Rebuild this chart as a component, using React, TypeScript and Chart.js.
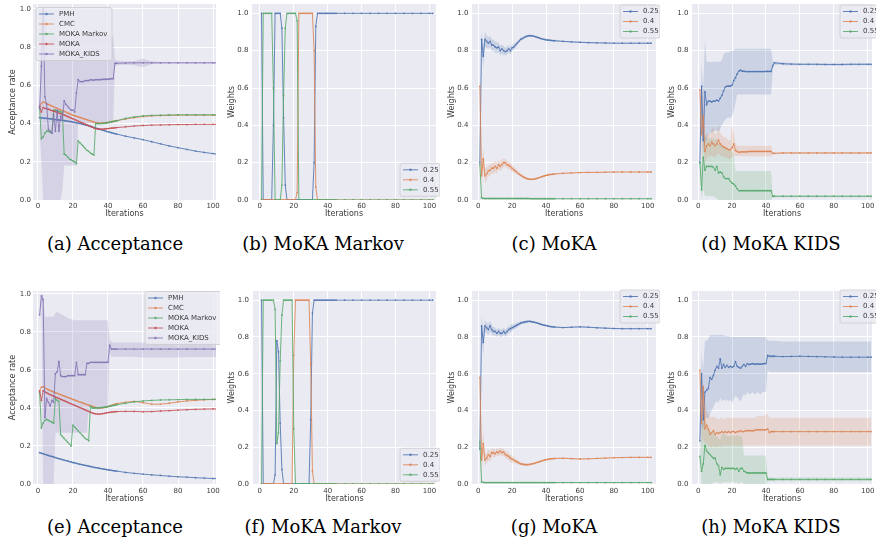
import React, { useEffect, useRef } from "react";
import { Chart, registerables } from "chart.js";

Chart.register(...registerables);

// ---------------- data ----------------
const ITER = [
  1, 2, 3, 4, 5, 6, 7, 8, 9, 10, 11, 12, 13, 14, 15, 16, 17, 18, 19, 20,
  21, 22, 23, 24, 25, 26, 27, 28, 29, 30, 31, 32, 33, 34, 35, 36, 37, 38, 39, 40,
  41, 42, 43, 44, 45, 50, 55, 60, 65, 70, 75, 80, 85, 90, 95, 100, 102,
];
const X_TICKS = [0, 20, 40, 60, 80, 100];
const Y_TICKS = [0, 0.2, 0.4, 0.6, 0.8, 1.0];
const ACC_LABELS = ["PMH", "CMC", "MOKA Markov", "MOKA", "MOKA_KIDS"];
const W_LABELS = ["0.25", "0.4", "0.55"];
const CAPTIONS = [
  "(a) Acceptance", "(b) MoKA Markov", "(c) MoKA", "(d) MoKA KIDS",
  "(e) Acceptance", "(f) MoKA Markov", "(g) MoKA", "(h) MoKA KIDS",
];

// (a)
const PMH_A = [
  .431,.430,.429,.428,.427,.426,.425,.424,.422,.421,
  .420,.419,.418,.417,.415,.414,.413,.411,.410,.408,
  .406,.404,.402,.400,.398,.396,.393,.391,.389,.386,
  .383,.380,.377,.374,.371,.368,.366,.363,.360,.357,
  .355,.352,.350,.347,.345,
  .334,.325,.316,.305,.294,.283,.274,.265,.256,.249,.243,.240];
const CMC_A = [
  .490,.505,.513,.510,.505,.500,.496,.492,.488,.484,
  .480,.476,.472,.468,.464,.460,.456,.452,.448,.444,
  .441,.438,.435,.432,.429,.426,.423,.420,.417,.414,
  .411,.408,.405,.403,.402,.402,.403,.404,.405,.406,
  .408,.410,.411,.413,.415,
  .424,.431,.437,.440,.442,.443,.444,.444,.444,.444,.444,.444];
const MARKOV_A = [
  .480,.320,.330,.350,.360,.360,.355,.350,.470,.470,
  .465,.465,.460,.460,.240,.235,.225,.215,.210,.205,
  .200,.190,.310,.300,.290,.280,.270,.260,.255,.245,
  .240,.235,.400,.400,.400,.400,.401,.402,.403,.405,
  .407,.409,.411,.413,.415,
  .427,.435,.440,.443,.444,.445,.446,.446,.446,.446,.446,.446];
const MOKA_A = [
  .490,.460,.485,.480,.478,.475,.472,.468,.465,.462,
  .458,.455,.452,.448,.445,.441,.437,.433,.429,.425,
  .421,.417,.413,.409,.405,.401,.397,.393,.389,.385,
  .381,.377,.374,.372,.371,.371,.371,.372,.373,.374,
  .375,.376,.377,.378,.379,
  .383,.387,.390,.392,.393,.394,.395,.395,.396,.396,.396,.396];
const KIDS_A = [
  .480,.700,1.00,.540,.500,.370,.360,.350,.450,.360,
  .470,.360,.440,.420,.520,.500,.490,.480,.470,.470,
  .460,.560,.630,.620,.620,.620,.625,.625,.625,.630,
  .628,.628,.630,.630,.630,.630,.632,.632,.632,.632,
  .633,.635,.635,.715,.716,
  .717,.718,.718,.718,.718,.718,.718,.718,.718,.718,.718,.718];
const KIDS_A_LO = [
  .350,.200,0,0,0,0,0,0,0,0,
  0,0,0,.050,.180,.180,.180,.180,.180,.180,
  .180,.180,.400,.400,.400,.400,.400,.400,.400,.400,
  .400,.400,.400,.400,.400,.400,.400,.400,.400,.400,
  .400,.400,.400,.700,.705,
  .708,.705,.695,.710,.714,.714,.715,.715,.715,.715,.715,.715];
const KIDS_A_HI = [
  .620,1.00,1.00,1.00,.860,.860,.860,.860,.860,.860,
  .860,.860,.860,.860,.860,.860,.860,.860,.860,.860,
  .860,.860,.860,.860,.860,.860,.860,.860,.860,.860,
  .860,.860,.860,.860,.860,.860,.860,.860,.860,.860,
  .860,.860,.860,.735,.730,
  .726,.728,.740,.726,.722,.721,.721,.721,.721,.721,.721,.721];

// (b)
const W25_B = [
  1,0,0,0,0,0,0,.40,1,1,
  1,1,.92,.44,.08,0,0,0,0,0,
  0,0,0,0,0,0,0,0,0,0,
  0,.20,.93,1,1,1,1,1,1,1,
  1,1,1,1,1,
  1,1,1,1,1,1,1,1,1,1,1,1];
const W40_B = [
  0,0,0,0,0,0,0,0,0,0,
  0,0,0,0,0,0,0,0,0,0,
  0,.04,1,1,1,1,1,1,1,1,
  1,.80,.07,0,0,0,0,0,0,0,
  0,0,0,0,0,
  0,0,0,0,0,0,0,0,0,0,0,0];
const W55_B = [
  0,1,1,1,1,1,1,.60,0,0,
  0,0,.08,.56,.92,1,1,1,1,1,
  1,.96,0,0,0,0,0,0,0,0,
  0,0,0,0,0,0,0,0,0,0,
  0,0,0,0,0,
  0,0,0,0,0,0,0,0,0,0,0,0];

// (c)
const W25_C = [
  .20,.86,.77,.86,.85,.84,.85,.83,.83,.82,
  .815,.82,.80,.81,.80,.795,.80,.81,.80,.815,
  .82,.83,.84,.85,.86,.865,.87,.875,.878,.88,
  .88,.879,.877,.874,.871,.868,.865,.862,.86,.858,
  .857,.856,.855,.854,.853,
  .850,.847,.845,.843,.842,.841,.840,.840,.840,.840,.840,.840];
const W40_C = [
  .61,.13,.22,.13,.14,.155,.16,.17,.17,.18,
  .17,.19,.18,.19,.20,.20,.19,.185,.18,.17,
  .162,.155,.148,.14,.133,.127,.122,.117,.114,.112,
  .111,.111,.112,.114,.117,.12,.123,.126,.129,.132,
  .134,.136,.137,.138,.139,
  .143,.145,.147,.148,.148,.149,.150,.150,.150,.150,.150,.150];
const W55_C = [
  .19,.012,.009,.008,.008,.008,.008,.008,.008,.008,
  .008,.008,.008,.008,.008,.008,.008,.008,.008,.008,
  .008,.008,.008,.008,.008,.008,.008,.008,.008,.008,
  .007,.007,.007,.007,.007,.007,.007,.007,.007,.007,
  .007,.007,.007,.007,.007,
  .007,.007,.007,.007,.007,.007,.007,.007,.007,.007,.007,.007];
const SPREAD_C = [
  0,.05,.06,.04,.035,.03,.03,.03,.03,.03,
  .03,.025,.025,.025,.025,.02,.02,.02,.02,.02,
  .015,.015,.012,.01,.01,.008,.008,.006,.006,.005,
  .004,.004,.004,.004,.004,.004,.004,.004,.004,.004,
  .004,.004,.004,.004,.004,
  .003,.003,.003,.003,.003,.003,.003,.003,.003,.003,.003,.003];

// (d)
const W25_D = [
  .20,.61,.32,.58,.51,.53,.53,.525,.53,.53,
  .535,.53,.545,.56,.585,.605,.61,.61,.61,.615,
  .64,.655,.675,.69,.695,.69,.69,.688,.688,.688,
  .688,.688,.688,.688,.688,.688,.688,.688,.688,.689,
  .689,.689,.689,.72,.735,
  .730,.728,.727,.727,.727,.726,.726,.726,.727,.727,.727,.727];
const W25_D_LO = [
  .20,.40,.25,.30,.33,.35,.36,.36,.37,.37,
  .37,.37,.38,.40,.42,.43,.44,.44,.44,.45,
  .48,.52,.565,.565,.565,.565,.565,.565,.565,.565,
  .565,.565,.565,.565,.565,.565,.565,.565,.565,.565,
  .565,.565,.565,.70,.725,
  .722,.722,.722,.722,.722,.721,.721,.721,.722,.722,.722,.722];
const W25_D_HI = [
  .20,.74,.60,.86,.74,.74,.74,.74,.74,.74,
  .74,.74,.74,.75,.78,.79,.79,.79,.80,.80,
  .80,.81,.81,.81,.81,.81,.81,.81,.81,.81,
  .81,.81,.81,.81,.81,.81,.81,.81,.81,.81,
  .81,.81,.81,.74,.742,
  .738,.734,.732,.732,.732,.731,.731,.731,.732,.732,.732,.732];
const W40_D = [
  .59,.35,.45,.26,.29,.30,.29,.31,.30,.29,
  .30,.32,.30,.29,.285,.28,.275,.27,.27,.28,
  .30,.265,.26,.255,.258,.258,.258,.258,.258,.26,
  .26,.26,.26,.26,.26,.26,.26,.26,.26,.26,
  .26,.26,.26,.25,.25,
  .252,.252,.252,.252,.252,.252,.252,.252,.252,.252,.252,.252];
const W40_D_LO = [
  .59,.22,.30,.20,.22,.24,.23,.24,.23,.23,
  .24,.25,.24,.235,.23,.23,.225,.22,.22,.23,
  .24,.235,.235,.235,.235,.235,.235,.235,.235,.235,
  .235,.235,.235,.235,.235,.235,.235,.235,.235,.235,
  .235,.235,.235,.245,.245,
  .247,.247,.247,.247,.247,.247,.247,.247,.247,.247,.247,.247];
const W40_D_HI = [
  .59,.48,.60,.35,.35,.36,.35,.38,.39,.35,
  .36,.41,.36,.345,.34,.335,.33,.32,.32,.40,
  .36,.30,.29,.29,.29,.29,.29,.29,.29,.29,
  .29,.29,.29,.29,.29,.29,.29,.29,.29,.29,
  .29,.29,.29,.255,.255,
  .257,.257,.257,.257,.257,.257,.257,.257,.257,.257,.257,.257];
const W55_D = [
  .20,.055,.23,.16,.18,.18,.18,.18,.175,.16,
  .18,.145,.15,.145,.125,.115,.115,.115,.10,.09,
  .085,.075,.06,.05,.05,.05,.05,.05,.05,.05,
  .05,.05,.05,.05,.05,.05,.05,.05,.05,.05,
  .05,.05,.05,.02,.02,
  .02,.02,.02,.02,.02,.02,.02,.02,.02,.02,.02,.02];
const W55_D_LO = [
  .20,0,.06,.02,.02,.02,.02,.02,.02,.01,
  .01,0,0,0,0,0,0,0,0,0,
  0,0,0,0,0,0,0,0,0,0,
  0,0,0,0,0,0,0,0,0,0,
  0,0,0,.015,.015,
  .015,.015,.015,.015,.015,.015,.015,.015,.015,.015,.015,.015];
const W55_D_HI = [
  .20,.20,.36,.33,.34,.33,.33,.33,.33,.32,
  .33,.30,.31,.30,.29,.28,.28,.27,.27,.26,
  .24,.155,.155,.155,.155,.155,.155,.155,.155,.155,
  .155,.155,.155,.155,.155,.155,.155,.155,.155,.155,
  .155,.155,.155,.025,.025,
  .025,.025,.025,.025,.025,.025,.025,.025,.025,.025,.025,.025];

// (e)
const PMH_E = [
  .165,.162,.159,.156,.153,.150,.147,.145,.142,.139,
  .136,.133,.131,.128,.126,.123,.121,.118,.116,.113,
  .111,.109,.106,.104,.102,.100,.098,.096,.094,.092,
  .090,.088,.086,.085,.083,.081,.079,.078,.076,.075,
  .073,.072,.070,.069,.068,
  .061,.056,.052,.048,.045,.041,.038,.036,.033,.031,.029,.028];
const CMC_E = [
  .490,.510,.512,.505,.500,.496,.492,.488,.484,.480,
  .477,.473,.470,.466,.463,.459,.456,.452,.449,.445,
  .442,.438,.435,.431,.428,.425,.421,.418,.415,.412,
  .409,.406,.403,.401,.400,.400,.401,.403,.405,.408,
  .411,.414,.417,.420,.423,
  .430,.435,.428,.420,.420,.425,.432,.437,.440,.443,.445,.446];
const MARKOV_E = [
  .480,.295,.320,.335,.340,.335,.330,.325,.320,.450,
  .440,.435,.260,.250,.240,.230,.220,.210,.200,.310,
  .300,.290,.280,.270,.260,.250,.240,.235,.228,.410,
  .400,.400,.400,.400,.401,.402,.403,.404,.405,.407,
  .409,.411,.413,.415,.417,
  .425,.432,.437,.440,.442,.443,.444,.445,.445,.445,.445,.445];
const MOKA_E = [
  .490,.440,.490,.485,.480,.475,.470,.466,.462,.458,
  .454,.450,.446,.442,.438,.434,.430,.426,.422,.418,
  .414,.410,.406,.402,.398,.394,.390,.386,.382,.378,
  .374,.371,.369,.368,.368,.369,.370,.372,.374,.376,
  .377,.378,.379,.380,.381,
  .382,.382,.380,.381,.384,.386,.389,.391,.393,.394,.395,.395];
const KIDS_E = [
  .890,.990,.970,.350,.450,.430,.410,.440,.430,.580,
  .590,.645,.570,.565,.565,.565,.570,.570,.570,.570,
  .570,.640,.575,.575,.575,.575,.575,.635,.635,.640,
  .640,.640,.640,.640,.640,.640,.640,.640,.640,.640,
  .730,.710,.710,.710,.710,
  .710,.710,.710,.710,.710,.710,.710,.710,.710,.710,.710,.710];
const KIDS_E_LO = [
  .850,.960,0,0,0,0,0,0,0,.270,
  .270,.270,.270,.270,.270,.270,.270,.270,.270,.270,
  .270,.270,.270,.270,.270,.270,.270,.270,.400,.400,
  .400,.400,.400,.400,.400,.400,.400,.400,.400,.400,
  .690,.670,.670,.670,.670,
  .670,.670,.665,.665,.665,.665,.665,.668,.668,.668,.668,.668];
const KIDS_E_HI = [
  .930,1.00,1.00,.880,.880,.880,.880,.880,.880,.900,
  .905,.900,.895,.890,.885,.880,.875,.870,.865,.865,
  .862,.862,.862,.862,.862,.862,.862,.862,.862,.862,
  .862,.862,.862,.862,.862,.862,.862,.862,.862,.862,
  .760,.750,.745,.745,.745,
  .745,.745,.745,.745,.745,.745,.745,.745,.745,.745,.745,.745];

// (f)
const W25_F = [
  1,0,0,0,0,0,0,0,.05,.78,
  .72,.33,.08,0,0,0,0,0,0,0,
  0,0,0,0,0,0,0,0,0,.35,
  .93,1,1,1,1,1,1,1,1,1,
  1,1,1,1,1,
  1,1,1,1,1,1,1,1,1,1,1,1];
const W40_F = [
  0,0,0,0,0,0,0,0,0,0,
  0,0,0,0,0,0,0,0,0,.70,
  1,1,1,1,1,1,1,1,1,.65,
  .07,0,0,0,0,0,0,0,0,0,
  0,0,0,0,0,
  0,0,0,0,0,0,0,0,0,0,0,0];
const W55_F = [
  0,1,1,1,1,1,1,1,.95,.22,
  .28,.67,.92,1,1,1,1,1,1,.30,
  0,0,0,0,0,0,0,0,0,0,
  0,0,0,0,0,0,0,0,0,0,
  0,0,0,0,0,
  0,0,0,0,0,0,0,0,0,0,0,0];

// (g)
const W25_G = [
  .19,.86,.77,.86,.85,.84,.86,.84,.83,.83,
  .82,.83,.82,.82,.83,.82,.83,.84,.845,.85,
  .855,.86,.865,.87,.875,.878,.88,.882,.884,.885,
  .884,.882,.88,.878,.875,.872,.869,.866,.864,.862,
  .86,.858,.856,.855,.854,
  .851,.853,.855,.853,.850,.848,.846,.845,.845,.845,.845,.845];
const W40_G = [
  .58,.13,.22,.13,.14,.16,.15,.17,.17,.165,
  .175,.17,.18,.17,.175,.16,.155,.15,.14,.135,
  .13,.125,.12,.115,.11,.108,.106,.105,.105,.106,
  .108,.11,.112,.115,.118,.121,.124,.127,.13,.132,
  .134,.136,.137,.138,.139,
  .140,.138,.136,.137,.139,.141,.143,.144,.145,.145,.145,.145];
const W55_G = [
  .23,.012,.009,.008,.008,.008,.008,.008,.008,.008,
  .008,.008,.008,.008,.008,.008,.008,.008,.008,.008,
  .008,.008,.008,.008,.008,.008,.008,.008,.008,.008,
  .008,.008,.008,.008,.008,.008,.008,.008,.008,.008,
  .008,.008,.008,.008,.008,
  .008,.008,.008,.008,.008,.008,.008,.008,.008,.008,.008,.008];
const SPREAD_G = [
  0,.06,.07,.03,.03,.03,.03,.025,.025,.02,
  .02,.02,.02,.02,.02,.02,.02,.02,.02,.02,
  .015,.015,.012,.01,.01,.008,.008,.006,.006,.005,
  .004,.004,.004,.004,.004,.004,.004,.004,.004,.004,
  .004,.004,.004,.004,.004,
  .003,.003,.003,.003,.003,.003,.003,.003,.003,.003,.003,.003];

// (h)
const W25_H = [
  .235,.60,.35,.50,.51,.52,.58,.57,.59,.62,
  .64,.63,.68,.63,.65,.635,.645,.635,.64,.635,
  .64,.665,.64,.635,.63,.64,.65,.64,.655,.65,
  .652,.655,.652,.652,.654,.652,.652,.653,.655,.655,
  .70,.695,.695,.695,.695,
  .693,.694,.695,.694,.693,.692,.691,.690,.690,.690,.690,.690];
const W25_H_LO = [
  .235,.30,.30,.35,.36,.36,.38,.40,.42,.44,
  .45,.44,.47,.45,.46,.45,.46,.45,.46,.44,
  .46,.48,.47,.46,.45,.47,.49,.48,.50,.49,
  .49,.50,.49,.49,.50,.49,.49,.50,.50,.50,
  .62,.61,.61,.61,.61,
  .61,.61,.61,.61,.61,.61,.61,.61,.61,.61,.61,.61];
const W25_H_HI = [
  .235,.72,.62,.78,.78,.79,.81,.81,.81,.81,
  .81,.81,.815,.81,.81,.805,.805,.805,.80,.80,
  .80,.80,.80,.80,.80,.80,.80,.80,.80,.80,
  .80,.80,.80,.80,.80,.80,.80,.80,.80,.80,
  .78,.78,.78,.78,.78,
  .775,.775,.775,.775,.775,.775,.775,.775,.775,.775,.775,.775];
const W40_H = [
  .62,.33,.53,.30,.32,.30,.27,.28,.29,.27,
  .28,.275,.28,.285,.28,.285,.28,.285,.28,.285,
  .285,.28,.285,.285,.29,.285,.285,.29,.29,.29,
  .29,.29,.29,.295,.295,.295,.295,.295,.295,.295,
  .30,.28,.285,.285,.285,
  .285,.285,.285,.285,.285,.285,.285,.285,.285,.285,.285,.285];
const W40_H_LO = [
  .62,.20,.25,.22,.22,.21,.20,.20,.21,.20,
  .20,.21,.20,.21,.21,.21,.21,.21,.21,.21,
  .21,.21,.21,.21,.21,.21,.21,.21,.21,.21,
  .21,.21,.21,.21,.21,.21,.21,.21,.21,.21,
  .21,.21,.21,.21,.21,
  .21,.21,.21,.21,.21,.21,.21,.21,.21,.21,.21,.21];
const W40_H_HI = [
  .62,.50,.55,.45,.40,.38,.37,.36,.37,.36,
  .36,.35,.36,.36,.35,.36,.36,.36,.36,.36,
  .36,.36,.36,.36,.36,.36,.36,.36,.36,.36,
  .36,.36,.36,.36,.37,.37,.37,.37,.37,.38,
  .38,.36,.36,.36,.36,
  .36,.36,.36,.36,.36,.36,.36,.36,.36,.36,.36,.36];
const W55_H = [
  .15,.07,.11,.21,.18,.17,.16,.15,.14,.14,
  .11,.10,.05,.09,.08,.085,.085,.085,.085,.085,
  .085,.08,.085,.07,.085,.085,.07,.065,.06,.06,
  .06,.06,.06,.06,.06,.06,.06,.06,.06,.06,
  .025,.025,.025,.025,.025,
  .025,.025,.025,.025,.025,.025,.025,.025,.025,.025,.025,.025];
const W55_H_LO = [
  .15,0,0,0,0,0,0,0,.01,.01,
  .01,.01,0,.01,.01,.01,.01,.01,.01,.01,
  .01,.01,.01,0,.01,.01,0,0,0,0,
  0,0,0,0,0,0,0,0,0,0,
  .015,.015,.015,.015,.015,
  .015,.015,.015,.015,.015,.015,.015,.015,.015,.015,.015,.015];
const W55_H_HI = [
  .15,.30,.35,.35,.33,.30,.29,.28,.28,.27,
  .26,.25,.24,.27,.27,.27,.26,.26,.26,.27,
  .26,.26,.27,.26,.26,.26,.155,.155,.155,.155,
  .155,.155,.155,.155,.155,.155,.155,.155,.155,.155,
  .035,.035,.035,.035,.035,
  .035,.035,.035,.035,.035,.035,.035,.035,.035,.035,.035,.035];

// ---------------- styling ----------------
const BLUE = "#4c72b0";
const ORANGE = "#dd8452";
const GREEN = "#55a868";
const RED = "#c44e52";
const PURPLE = "#8172b3";
const FONT = '"DejaVu Sans", sans-serif';
const TEXT = "#3a3a3a";

type Series = { label: string; color: string; values: number[]; lo?: number[]; hi?: number[]; spread?: number[] };
type Panel = {
  caption: string; cx: number; cy: number;
  left: number; top: number; width: number; height: number;
  padTop: number; axisW: number; axisH: number; tickPadX: number; tickPadY: number;
  xMin: number; xMax: number; yMax: number; yTitle: string; titlePad: number;
  legend: { left: number; top: number; width: number };
  series: Series[];
};

const accSeries = (v: number[][], band: number[][]): Series[] => [
  { label: ACC_LABELS[0], color: BLUE, values: v[0] },
  { label: ACC_LABELS[1], color: ORANGE, values: v[1] },
  { label: ACC_LABELS[2], color: GREEN, values: v[2] },
  { label: ACC_LABELS[3], color: RED, values: v[3] },
  { label: ACC_LABELS[4], color: PURPLE, values: v[4], lo: band[0], hi: band[1] },
];

const ROW1 = { top: 0, height: 219, axisH: 19, tickPadX: 2 };
const ROW2 = { top: 287, height: 217, axisH: 20, tickPadX: 2.5 };

const PANELS: Panel[] = [
  {
    caption: CAPTIONS[0], cx: 115, cy: 244, left: 0, width: 220, ...ROW1, padTop: 0, axisW: 33, tickPadY: 2,
    xMin: -2.79, xMax: 101.68, yMax: 1.026, yTitle: "Acceptance rate", titlePad: 7.9,
    legend: { left: 36, top: 7.5, width: 76 },
    series: accSeries([PMH_A, CMC_A, MARKOV_A, MOKA_A, KIDS_A], [KIDS_A_LO, KIDS_A_HI]),
  },
  {
    caption: CAPTIONS[1], cx: 323, cy: 244, left: 219, width: 221, ...ROW1, padTop: 2, axisW: 33, tickPadY: 3.5,
    xMin: -4.62, xMax: 103.87, yMax: 1.05, yTitle: "Weights", titlePad: 8.5,
    legend: { left: 181, top: 163.3, width: 40 },
    series: [
      { label: W_LABELS[0], color: BLUE, values: W25_B },
      { label: W_LABELS[1], color: ORANGE, values: W40_B },
      { label: W_LABELS[2], color: GREEN, values: W55_B },
    ],
  },
  {
    caption: CAPTIONS[2], cx: 554, cy: 244, left: 439, width: 221, ...ROW1, padTop: 2, axisW: 33, tickPadY: 3.5,
    xMin: -3.64, xMax: 104.85, yMax: 1.05, yTitle: "Weights", titlePad: 8.5,
    legend: { left: 181, top: 5, width: 40 },
    series: [
      { label: W_LABELS[0], color: BLUE, values: W25_C, spread: SPREAD_C },
      { label: W_LABELS[1], color: ORANGE, values: W40_C, spread: SPREAD_C },
      { label: W_LABELS[2], color: GREEN, values: W55_C },
    ],
  },
  {
    caption: CAPTIONS[3], cx: 771, cy: 244, left: 659, width: 217, ...ROW1, padTop: 2, axisW: 33, tickPadY: 3.5,
    xMin: -3.64, xMax: 102.54, yMax: 1.05, yTitle: "Weights", titlePad: 8.5,
    legend: { left: 181, top: 5, width: 40 },
    series: [
      { label: W_LABELS[0], color: BLUE, values: W25_D, lo: W25_D_LO, hi: W25_D_HI },
      { label: W_LABELS[1], color: ORANGE, values: W40_D, lo: W40_D_LO, hi: W40_D_HI },
      { label: W_LABELS[2], color: GREEN, values: W55_D, lo: W55_D_LO, hi: W55_D_HI },
    ],
  },
  {
    caption: CAPTIONS[4], cx: 115, cy: 527, left: 0, width: 220, ...ROW2, padTop: 0, axisW: 33, tickPadY: 2,
    xMin: -2.79, xMax: 101.68, yMax: 1.0155, yTitle: "Acceptance rate", titlePad: 7.9,
    legend: { left: 145, top: 4.5, width: 78 },
    series: accSeries([PMH_E, CMC_E, MARKOV_E, MOKA_E, KIDS_E], [KIDS_E_LO, KIDS_E_HI]),
  },
  {
    caption: CAPTIONS[5], cx: 323, cy: 527, left: 220, width: 220, ...ROW2, padTop: 0, axisW: 33, tickPadY: 4,
    xMin: -4.04, xMax: 103.87, yMax: 1.05, yTitle: "Weights", titlePad: 7.5,
    legend: { left: 180, top: 161.3, width: 40 },
    series: [
      { label: W_LABELS[0], color: BLUE, values: W25_F },
      { label: W_LABELS[1], color: ORANGE, values: W40_F },
      { label: W_LABELS[2], color: GREEN, values: W55_F },
    ],
  },
  {
    caption: CAPTIONS[6], cx: 554, cy: 527, left: 439, width: 221, ...ROW2, padTop: 0, axisW: 33, tickPadY: 3.5,
    xMin: -3.64, xMax: 104.85, yMax: 1.05, yTitle: "Weights", titlePad: 7.9,
    legend: { left: 181, top: 3, width: 40 },
    series: [
      { label: W_LABELS[0], color: BLUE, values: W25_G, spread: SPREAD_G },
      { label: W_LABELS[1], color: ORANGE, values: W40_G, spread: SPREAD_G },
      { label: W_LABELS[2], color: GREEN, values: W55_G },
    ],
  },
  {
    caption: CAPTIONS[7], cx: 771, cy: 527, left: 659, width: 217, ...ROW2, padTop: 0, axisW: 33, tickPadY: 3.5,
    xMin: -3.64, xMax: 102.54, yMax: 1.05, yTitle: "Weights", titlePad: 7.9,
    legend: { left: 181, top: 3, width: 40 },
    series: [
      { label: W_LABELS[0], color: BLUE, values: W25_H, lo: W25_H_LO, hi: W25_H_HI },
      { label: W_LABELS[1], color: ORANGE, values: W40_H, lo: W40_H_LO, hi: W40_H_HI },
      { label: W_LABELS[2], color: GREEN, values: W55_H, lo: W55_H_LO, hi: W55_H_HI },
    ],
  },
];

function rgba(hex: string, a: number) {
  const n = parseInt(hex.slice(1), 16);
  return `rgba(${(n >> 16) & 255},${(n >> 8) & 255},${n & 255},${a})`;
}

function PanelChart({ p }: { p: Panel }) {
  const ref = useRef<HTMLCanvasElement | null>(null);
  useEffect(() => {
    const canvas = ref.current;
    if (!canvas) return;
    const datasets: any[] = [];
    p.series.forEach((s) => {
      let lo = s.lo;
      let hi = s.hi;
      if (s.spread) {
        lo = s.values.map((v, k) => v - s.spread![k]);
        hi = s.values.map((v, k) => v + s.spread![k]);
      }
      if (lo && hi) {
        const hiIndex = datasets.length;
        datasets.push({
          data: ITER.map((x, k) => ({ x, y: hi![k] })),
          borderColor: "rgba(0,0,0,0)", borderWidth: 0, pointRadius: 0, fill: false, order: 100,
        });
        datasets.push({
          data: ITER.map((x, k) => ({ x, y: lo![k] })),
          borderColor: "rgba(0,0,0,0)", borderWidth: 0, pointRadius: 0,
          fill: hiIndex, backgroundColor: rgba(s.color, 0.2), order: 100,
        });
      }
    });
    p.series.forEach((s, i) => {
      const c = rgba(s.color, 0.85);
      datasets.push({
        label: s.label,
        data: ITER.map((x, k) => ({ x, y: s.values[k] })),
        borderColor: c, backgroundColor: c, borderWidth: 1,
        pointRadius: 0.9, pointBorderWidth: 0, pointBackgroundColor: c,
        fill: false, tension: 0, order: p.series.length - i,
      });
    });

    const bgPlugin = {
      id: "plotBg",
      beforeDraw(chart: any) {
        const { ctx, chartArea } = chart;
        ctx.save();
        ctx.fillStyle = "#eaeaf2";
        ctx.fillRect(chartArea.left, chartArea.top, chartArea.right - chartArea.left, chartArea.bottom - chartArea.top);
        ctx.restore();
      },
    };
    const legendPlugin = {
      id: "mplLegend",
      afterDraw(chart: any) {
        const ctx = chart.ctx;
        const { left, top, width } = p.legend;
        const n = p.series.length;
        const h = 13 + (n - 1) * 10;
        ctx.save();
        ctx.beginPath();
        const r = 2;
        ctx.moveTo(left + r, top);
        ctx.lineTo(left + width - r, top);
        ctx.arcTo(left + width, top, left + width, top + r, r);
        ctx.lineTo(left + width, top + h - r);
        ctx.arcTo(left + width, top + h, left + width - r, top + h, r);
        ctx.lineTo(left + r, top + h);
        ctx.arcTo(left, top + h, left, top + h - r, r);
        ctx.lineTo(left, top + r);
        ctx.arcTo(left, top, left + r, top, r);
        ctx.closePath();
        ctx.fillStyle = "rgba(234,234,242,0.8)";
        ctx.fill();
        ctx.strokeStyle = "#cccccc";
        ctx.lineWidth = 0.8;
        ctx.stroke();
        p.series.forEach((s, i) => {
          const y = top + 6.5 + i * 10;
          const c = rgba(s.color, 0.85);
          ctx.strokeStyle = c;
          ctx.lineWidth = 1;
          ctx.beginPath();
          ctx.moveTo(left + 3, y);
          ctx.lineTo(left + 18, y);
          ctx.stroke();
          ctx.fillStyle = c;
          ctx.beginPath();
          ctx.arc(left + 10.5, y, 1.2, 0, Math.PI * 2);
          ctx.fill();
          ctx.fillStyle = TEXT;
          ctx.font = `7px ${FONT}`;
          ctx.textBaseline = "middle";
          ctx.textAlign = "left";
          ctx.fillText(s.label, left + 23, y);
        });
        ctx.restore();
      },
    };

    const zeroPad = (s: any) => {
      s.paddingLeft = 0; s.paddingRight = 0; s.paddingTop = 0; s.paddingBottom = 0;
    };

    const chart = new Chart(canvas, {
      type: "line",
      data: { datasets },
      options: {
        animation: false,
        responsive: false,
        maintainAspectRatio: false,
        devicePixelRatio: 1,
        events: [],
        layout: { padding: { top: p.padTop, left: 0, right: 0, bottom: 0 } },
        plugins: { legend: { display: false }, tooltip: { enabled: false } },
        scales: {
          x: {
            type: "linear", min: p.xMin, max: p.xMax,
            afterBuildTicks: (s: any) => { s.ticks = X_TICKS.map((v) => ({ value: v })); },
            afterFit: (s: any) => { s.height = p.axisH; zeroPad(s); },
            grid: { color: "#ffffff", lineWidth: 1, drawTicks: false },
            border: { display: false },
            ticks: {
              font: { family: FONT, size: 7 }, color: TEXT, padding: p.tickPadX,
              maxRotation: 0, autoSkip: false, callback: (v: any) => String(v),
            },
            title: {
              display: true, text: "Iterations", color: TEXT,
              font: { family: FONT, size: 8 }, padding: { top: 0, bottom: 0 },
            },
          },
          y: {
            type: "linear", min: 0, max: p.yMax,
            afterBuildTicks: (s: any) => { s.ticks = Y_TICKS.map((v) => ({ value: v })); },
            afterFit: (s: any) => { s.width = p.axisW; zeroPad(s); },
            grid: { color: "#ffffff", lineWidth: 1, drawTicks: false },
            border: { display: false },
            ticks: {
              font: { family: FONT, size: 7 }, color: TEXT, padding: p.tickPadY,
              autoSkip: false, callback: (v: any) => Number(v).toFixed(1),
            },
            title: {
              display: true, text: p.yTitle, color: TEXT,
              font: { family: FONT, size: 8 }, padding: { top: p.titlePad, bottom: 0 },
            },
          },
        },
      } as any,
      plugins: [bgPlugin, legendPlugin],
    });
    return () => chart.destroy();
  }, [p]);
  return (
    <canvas
      ref={ref}
      width={p.width}
      height={p.height}
      style={{ position: "absolute", left: p.left, top: p.top, width: p.width, height: p.height }}
    />
  );
}

export default function App() {
  return (
    <div
      style={{
        position: "fixed", left: 0, top: 0, width: 876, height: 543,
        background: "#ffffff", overflow: "hidden",
      }}
    >
      {PANELS.map((p, i) => (
        <PanelChart key={i} p={p} />
      ))}
      {PANELS.map((p, i) => (
        <div
          key={"c" + i}
          style={{
            position: "absolute", left: p.cx - 120, width: 240, top: p.cy - 11,
            height: 22, lineHeight: "22px", textAlign: "center", whiteSpace: "nowrap",
            fontFamily: '"DejaVu Serif", serif', fontSize: 18, color: "#000",
          }}
        >
          {p.caption}
        </div>
      ))}
    </div>
  );
}
